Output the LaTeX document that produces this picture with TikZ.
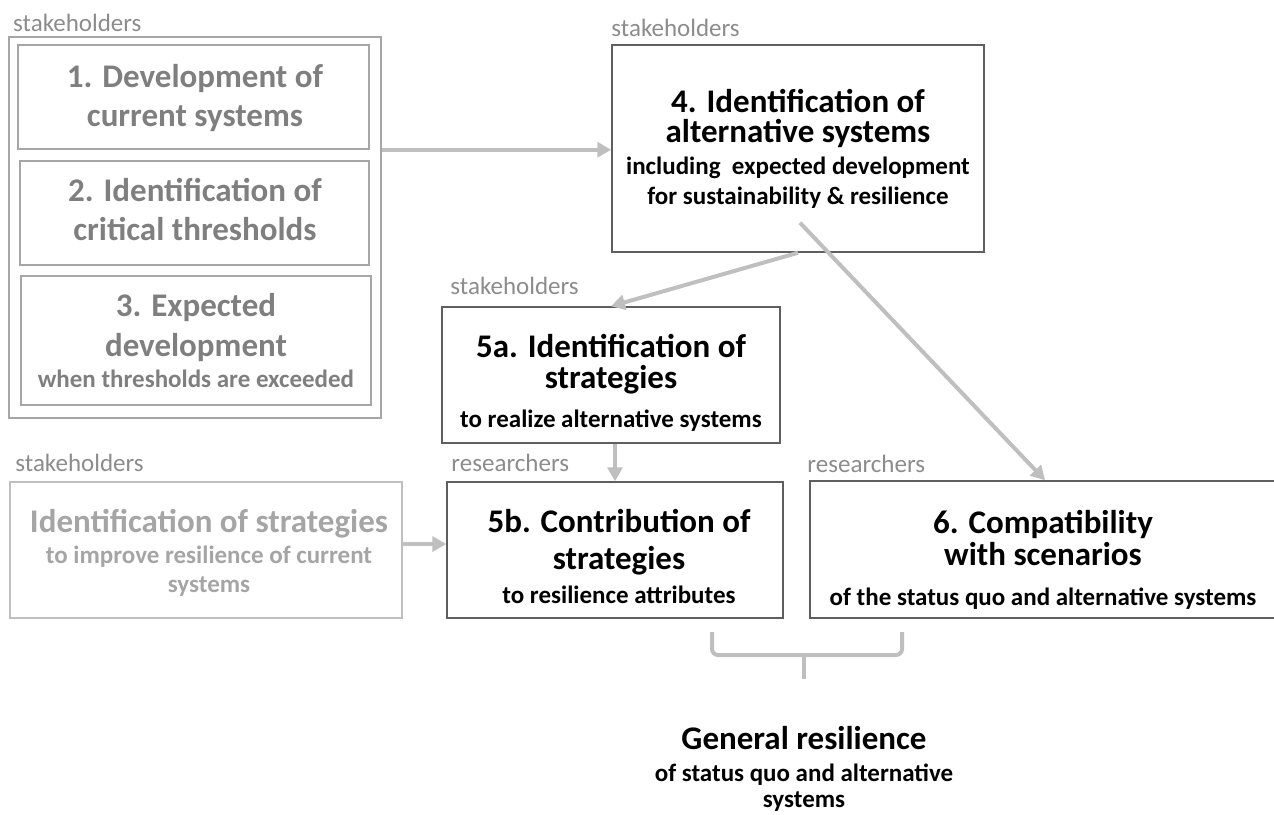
\documentclass[tikz,border=0pt]{standalone}
\usepackage{fontspec}
\setmainfont{Carlito}
\usetikzlibrary{arrows.meta}

\definecolor{linegray}{HTML}{BFBFBF}
\definecolor{framegray}{HTML}{A6A6A6}
\definecolor{darkframe}{HTML}{5F5F5F}
\definecolor{oldtext}{HTML}{7F7F7F}
\definecolor{paletext}{HTML}{A5A5A5}
\definecolor{taggray}{HTML}{8C8C8C}

\newcommand{\subline}[1]{{\fontsize{25}{28}\selectfont #1}}

\begin{document}
\begin{tikzpicture}[x=1pt,y=-1pt,
    box/.style={draw=darkframe, line width=1.5pt, inner sep=0pt},
    greybox/.style={box, draw=framegray},
    palebox/.style={box, draw=linegray},
    title/.style={align=center, inner sep=0pt, font=\bfseries\fontsize{33}{30}\selectfont},
    tag/.style={text=taggray, inner sep=0pt, anchor=base west, font=\fontsize{25}{28}\selectfont},
    arrow/.style={draw=linegray, line width=4pt, -{Triangle[length=14pt,width=15pt]}}]

  \useasboundingbox (0,0) rectangle (1274,814);

  % current systems (steps 1 to 3)
  \node[greybox, line width=2pt, minimum width=372pt, minimum height=381pt] (outer) at (195,227.5) {};
  \node[greybox, minimum width=351pt, minimum height=104pt] (b1) at (193.5,97) {};
  \node[greybox, minimum width=349pt, minimum height=104pt] (b2) at (194.5,213) {};
  \node[greybox, minimum width=350pt, minimum height=129pt] (b3) at (196,340.5) {};
  \node[title, text=oldtext] (t1) at (195,98.5) {1. Development of\\[9pt]current systems};
  \node[title, text=oldtext] (t2) at (195,210) {2. Identification of\\[9pt]critical thresholds};
  \node[title, text=oldtext] (t3) at (196,341) {3. Expected\\[10pt]development\\[1pt]\subline{when thresholds are exceeded}};

  % alternative systems
  \node[box, minimum width=372pt, minimum height=207pt] (b4) at (798,148.5) {};
  \node[title] (t4) at (798,149) {4. Identification of\\alternative systems\\[2pt]\subline{including\ \ expected development}\\\subline{for sustainability \& resilience}};

  % strategies
  \node[box, minimum width=338pt, minimum height=136pt] (b5a) at (611,375) {};
  \node[title] (t5a) at (611,383) {5a. Identification of\\[1pt]strategies\\[9pt]\subline{to realize alternative systems}};
  \node[box, minimum width=336pt, minimum height=136pt] (b5b) at (615,550) {};
  \node[title] (t5b) at (619,556) {5b. Contribution of\\[7pt]strategies\\[4pt]\subline{to resilience attributes}};
  \node[palebox, minimum width=392pt, minimum height=136pt] (bL) at (206,550) {};
  \node[title, text=paletext] (tL) at (209,553) {Identification of strategies\\[1pt]\subline{to improve resilience of current}\\[-1pt]\subline{systems}};
  \node[box, minimum width=470pt, minimum height=137pt] (b6) at (1045,549.5) {};
  \node[title] (t6) at (1043,560) {6. Compatibility\\[2pt]with scenarios\\[10pt]\subline{of the status quo and alternative systems}};

  % who does what
  \foreach \b/\dx/\dy/\who in {outer/5/5/stakeholders, b4/0/8/stakeholders,
      b5a/9/12/stakeholders, bL/6/10/stakeholders, b5b/5/10/researchers, b6/-2/8/researchers}
    \node[tag] (tag-\b) at ([xshift=\dx pt,yshift=\dy pt]\b.north west) {\who};

  % arrows
  \draw[arrow] (outer.east |- b1.south) -- (b4.west |- b1.south);
  \draw[arrow] (b4.south) -- (b5a.north);
  \draw[arrow] ([xshift=2pt,yshift=30pt]b4.south) -- (b6.north);
  \draw[arrow] (b5a.south -| b5b.north) -- (b5b.north);
  \draw[arrow] ([yshift=6pt]bL.east) -- ([yshift=6pt]b5b.west);

  % brace
  \draw[linegray, line width=4pt, rounded corners=6pt] (712,632) -- (712,655) -- (902,655) -- (902,632);
  \draw[linegray, line width=4pt] (804,655) -- (804,679);

  % result
  \node[title] (gen) at (804,769) {General resilience\\[2pt]\subline{of status quo and alternative}\\[-4pt]\subline{systems}};

\end{tikzpicture}
\end{document}
